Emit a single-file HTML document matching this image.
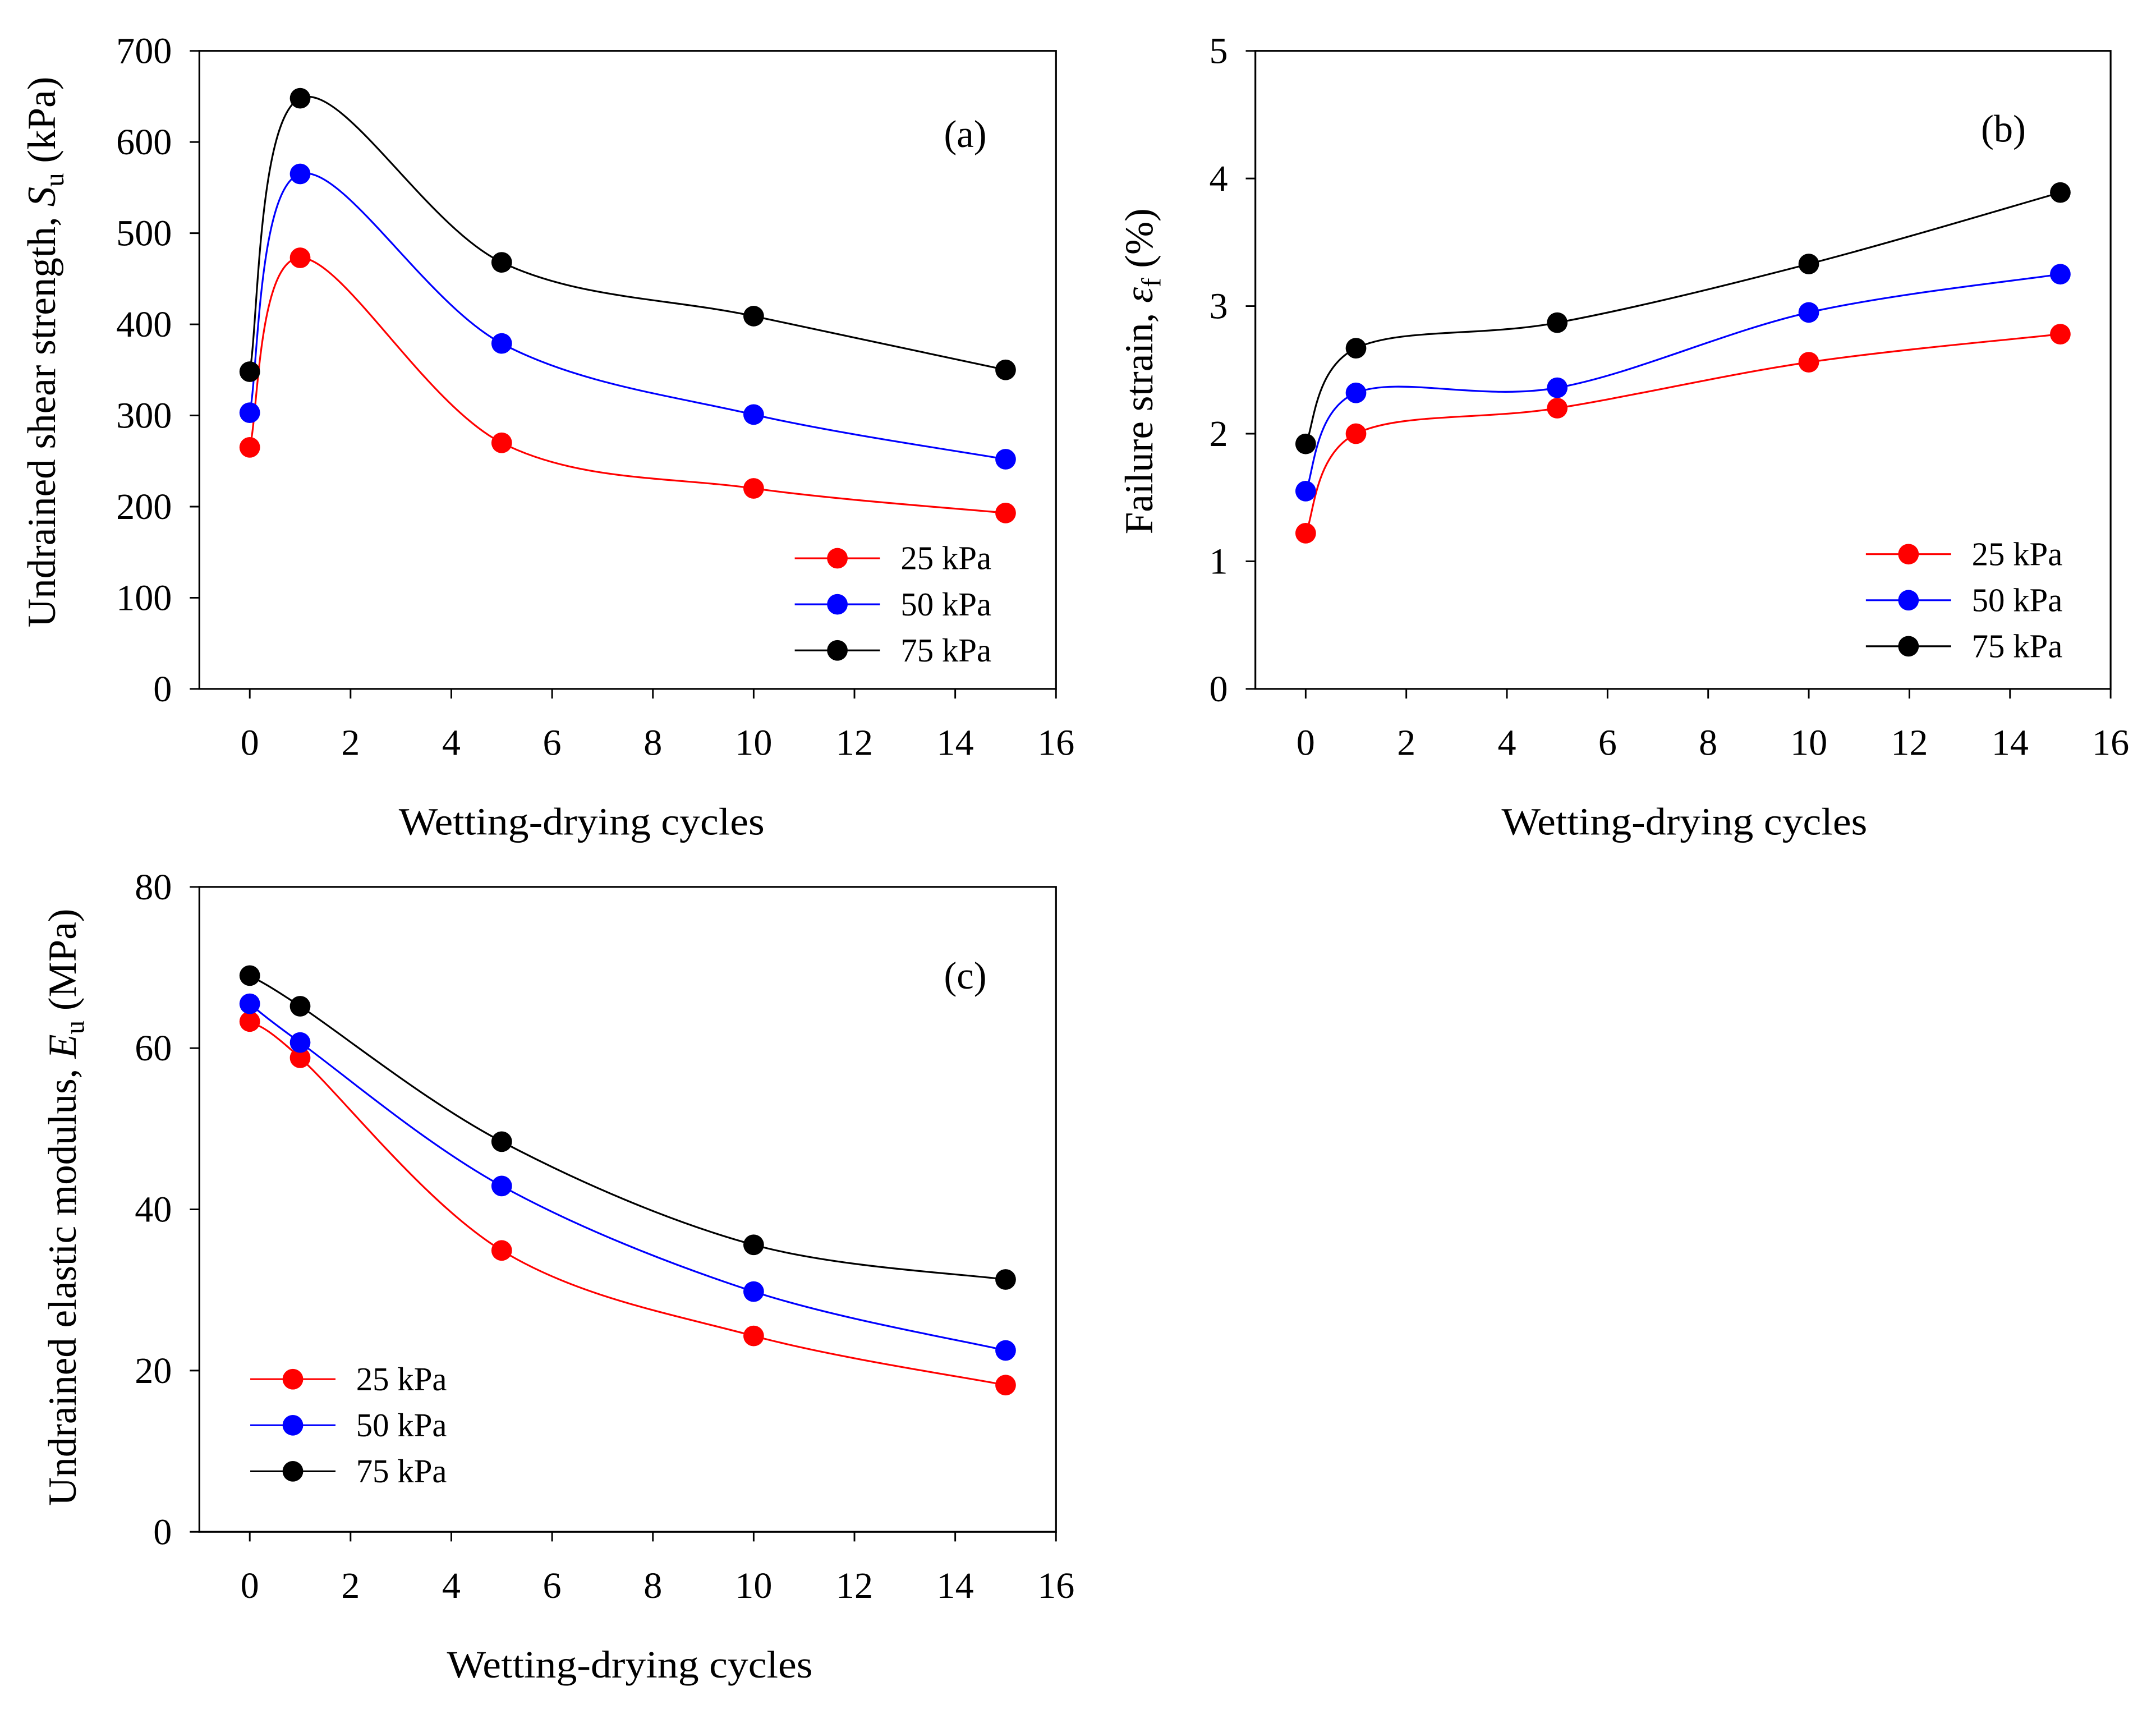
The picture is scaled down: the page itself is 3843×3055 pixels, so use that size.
<!DOCTYPE html>
<html><head><meta charset="utf-8"><style>
html,body{margin:0;padding:0;background:#fff}
svg{display:block}
text{font-family:"Liberation Serif",serif;fill:#000}
</style></head><body>
<svg id="fig" width="3843" height="3055" viewBox="0 0 1568 1246.5" preserveAspectRatio="none" xmlns="http://www.w3.org/2000/svg"></svg>
<script>
const cycles = [0, 1, 5, 10, 15];
const xTicks = [0, 2, 4, 6, 8, 10, 12, 14, 16];
const seriesNames = ["25 kPa", "50 kPa", "75 kPa"];
const seriesColors = ["#ff0000", "#0000ff", "#000000"];
const suTicks = [0, 100, 200, 300, 400, 500, 600, 700];
const su25 = [265, 473, 270, 220, 193];
const su50 = [303, 565, 379, 301, 252];
const su75 = [348, 648, 468, 409, 350];
const efTicks = [0, 1, 2, 3, 4, 5];
const ef25 = [1.22, 2.0, 2.2, 2.56, 2.78];
const ef50 = [1.55, 2.32, 2.36, 2.95, 3.25];
const ef75 = [1.92, 2.67, 2.87, 3.33, 3.89];
const euTicks = [0, 20, 40, 60, 80];
const eu25 = [63.3, 58.8, 34.9, 24.3, 18.2];
const eu50 = [65.5, 60.7, 42.9, 29.8, 22.5];
const eu75 = [69.0, 65.2, 48.4, 35.6, 31.3];

const NS = "http://www.w3.org/2000/svg";
const svg = document.getElementById("fig");
function mk(tag, attrs, parent) {
  const e = document.createElementNS(NS, tag);
  for (const k in attrs) e.setAttribute(k, attrs[k]);
  (parent || svg).appendChild(e);
  return e;
}
function spline(pts) {
  let d = "M" + pts[0][0] + "," + pts[0][1];
  for (let i = 0; i < pts.length - 1; i++) {
    const p0 = pts[Math.max(0, i - 1)], p1 = pts[i], p2 = pts[i + 1], p3 = pts[Math.min(pts.length - 1, i + 2)];
    const t = 1 / 3;
    const c1 = [p1[0] + (p2[0] - p0[0]) * t / 2, p1[1] + (p2[1] - p0[1]) * t / 2];
    const c2 = [p2[0] - (p3[0] - p1[0]) * t / 2, p2[1] - (p3[1] - p1[1]) * t / 2];
    d += " C" + c1[0] + "," + c1[1] + " " + c2[0] + "," + c2[1] + " " + p2[0] + "," + p2[1];
  }
  return d;
}
function panel(o) {
  const g = mk("g", {});
  
  
  const X = v => o.x0 + (v + 1) / 17 * (o.x1 - o.x0);
  const Y = v => o.y1 - v / o.ymax * (o.y1 - o.y0);
  const frame = mk("rect", {x: o.x0, y: o.y0, width: o.x1 - o.x0, height: o.y1 - o.y0, fill: "none", stroke: "#000", "stroke-width": 1.3}, g);
  
  
  xTicks.forEach(t => {
    const tk = mk("line", {x1: X(t), x2: X(t), y1: o.y1, y2: o.y1 + 7, stroke: "#000", "stroke-width": 1.2}, g);
    
    
    const tl = mk("text", {x: X(t), y: o.y1 + 48, "text-anchor": "middle", "font-size": 27}, g);
    tl.textContent = t;
    
    
  });
  o.yTicks.forEach(t => {
    const tk = mk("line", {x1: o.x0 - 7, x2: o.x0, y1: Y(t), y2: Y(t), stroke: "#000", "stroke-width": 1.2}, g);
    
    
    const tl = mk("text", {x: o.x0 - 20, y: Y(t) + 9, "text-anchor": "end", "font-size": 27}, g);
    tl.textContent = t;
    
    
  });
  o.series.forEach((vals, i) => {
    const pts = vals.map((v, j) => [X(cycles[j]), Y(v)]);
    const p = mk("path", {d: spline(pts), fill: "none", stroke: seriesColors[i], "stroke-width": 1.3}, g);
    
    
    pts.forEach(pt => {
      const c = mk("circle", {cx: pt[0], cy: pt[1], r: 7.5, fill: seriesColors[i]}, g);
      
      
    });
  });
  seriesNames.forEach((n, i) => {
    const ly = o.leg[1] + i * 33.5;
    const lg = mk("g", {}, g);
    
    
    mk("line", {x1: o.leg[0], x2: o.leg[0] + 62, y1: ly, y2: ly, stroke: seriesColors[i], "stroke-width": 1.3}, lg);
    mk("circle", {cx: o.leg[0] + 31, cy: ly, r: 7.5, fill: seriesColors[i]}, lg);
    const t = mk("text", {x: o.leg[0] + 77, y: ly + 8, "font-size": 24}, lg);
    t.textContent = n;
  });
  const lab = mk("text", {x: o.lab[0], y: o.lab[1], "text-anchor": "middle", "font-size": 28}, g);
  lab.textContent = o.labText;
  
  
  const xt = mk("text", {x: o.xt, y: o.y1 + 106, "text-anchor": "middle", "font-size": 28, textLength: 266, lengthAdjust: "spacingAndGlyphs"}, g);
  xt.textContent = "Wetting-drying cycles";
  
  
  const yt = mk("text", {x: 0, y: 0, "text-anchor": "middle", "font-size": 29, transform: "translate(" + o.yt[0] + "," + o.yt[1] + ") rotate(-90)"}, g);
  yt.innerHTML = o.ytHtml;
  
  
}
panel({name: "panel-a-shear-strength", x0: 145, x1: 768, y0: 37, y1: 501, ymax: 700, yTicks: suTicks,
  series: [su25, su50, su75], leg: [578, 406], lab: [702, 107], labText: "(a)", yt: [40, 256], xt: 423,
  ytHtml: 'Undrained shear strength, <tspan font-style="italic">S</tspan><tspan font-size="20" dy="6">u</tspan><tspan dy="-6"> (kPa)</tspan>'});
panel({name: "panel-b-failure-strain", x0: 913, x1: 1535, y0: 37, y1: 501, ymax: 5, yTicks: efTicks,
  series: [ef25, ef50, ef75], leg: [1357, 403], lab: [1457, 103], labText: "(b)", yt: [838, 270], xt: 1225,
  ytHtml: 'Failure strain, <tspan font-style="italic">ε</tspan><tspan font-size="20" dy="6">f</tspan><tspan dy="-6"> (%)</tspan>'});
panel({name: "panel-c-elastic-modulus", x0: 145, x1: 768, y0: 645, y1: 1114, ymax: 80, yTicks: euTicks,
  series: [eu25, eu50, eu75], leg: [182, 1003], lab: [702, 719], labText: "(c)", yt: [55, 878], xt: 458,
  ytHtml: 'Undrained elastic modulus, <tspan font-style="italic">E</tspan><tspan font-size="20" dy="6">u</tspan><tspan dy="-6"> (MPa)</tspan>'});
</script>
</body></html>
